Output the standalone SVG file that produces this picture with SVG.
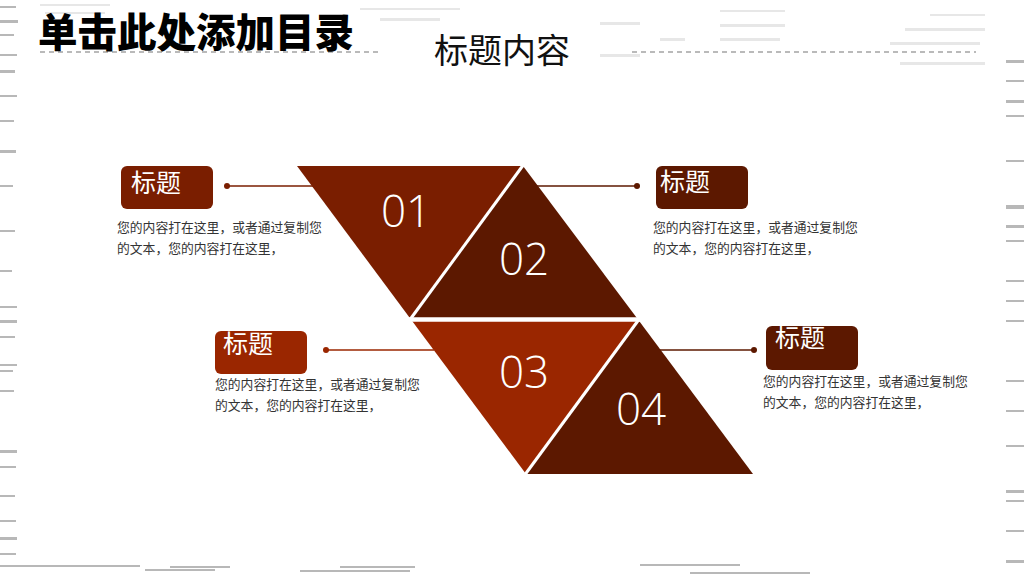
<svg xmlns="http://www.w3.org/2000/svg" width="1024" height="576" viewBox="0 0 1024 576">
  <style>
    .cjk { font-family: "Noto Sans CJK SC", "Noto Sans", sans-serif; }
    .num { font-family: "Open Sans", "Noto Sans", sans-serif; font-weight: 300; font-size: 44px; fill: #ffffff; text-anchor: middle; }
    .boxlabel { font-family: "Noto Sans CJK SC", sans-serif; font-size: 25px; fill: #ffffff; }
    .body { font-family: "Noto Sans CJK SC", sans-serif; font-size: 12.8px; fill: #333333; }
    .conn { stroke-width: 1.6; fill: none; }
    .gap { stroke: #ffffff; fill: none; }
    .streak { fill: #8a8a8a; }
    .streakl { fill: #d8d8d8; }
  </style>
  <rect x="0" y="0" width="1024" height="576" fill="#ffffff"/>

  <!-- grunge border texture -->
  <g id="texture" opacity="0.6">
    <rect class="streak" x="0" y="6" width="16" height="2"/>
    <rect class="streak" x="0" y="20" width="18" height="3"/>
    <rect class="streak" x="0" y="34" width="14" height="2"/>
    <rect class="streak" x="0" y="54" width="17" height="2"/>
    <rect class="streak" x="0" y="70" width="15" height="3"/>
    <rect class="streak" x="0" y="95" width="17" height="2"/>
    <rect class="streak" x="0" y="120" width="14" height="2"/>
    <rect class="streak" x="0" y="150" width="16" height="3"/>
    <rect class="streak" x="0" y="185" width="13" height="2"/>
    <rect class="streak" x="0" y="230" width="15" height="2"/>
    <rect class="streak" x="0" y="270" width="12" height="2"/>
    <rect class="streak" x="0" y="306" width="17" height="2"/>
    <rect class="streak" x="0" y="320" width="17" height="3"/>
    <rect class="streak" x="0" y="336" width="15" height="2"/>
    <rect class="streak" x="0" y="364" width="17" height="2"/>
    <rect class="streak" x="0" y="370" width="13" height="2"/>
    <rect class="streak" x="0" y="390" width="14" height="2"/>
    <rect class="streak" x="0" y="450" width="17" height="3"/>
    <rect class="streak" x="0" y="466" width="16" height="2"/>
    <rect class="streak" x="0" y="495" width="15" height="2"/>
    <rect class="streak" x="0" y="520" width="16" height="2"/>
    <rect class="streak" x="0" y="537" width="17" height="3"/>
    <rect class="streak" x="0" y="553" width="16" height="2"/>
    <rect class="streak" x="0" y="565" width="140" height="2"/>
    <rect class="streak" x="145" y="569" width="70" height="2"/>
    <rect class="streak" x="170" y="566" width="60" height="2"/>
    <rect class="streak" x="300" y="570" width="110" height="2"/>
    <rect class="streak" x="340" y="566" width="75" height="2"/>
    <rect class="streak" x="640" y="564" width="100" height="2"/>
    <rect class="streak" x="690" y="572" width="120" height="2"/>
    <rect class="streak" x="1006" y="60" width="18" height="3"/>
    <rect class="streak" x="1006" y="80" width="18" height="2"/>
    <rect class="streak" x="1006" y="100" width="18" height="3"/>
    <rect class="streak" x="1006" y="115" width="18" height="2"/>
    <rect class="streak" x="1006" y="160" width="18" height="2"/>
    <rect class="streak" x="1006" y="205" width="18" height="4"/>
    <rect class="streak" x="1006" y="225" width="18" height="3"/>
    <rect class="streak" x="1006" y="240" width="18" height="2"/>
    <rect class="streak" x="1006" y="280" width="18" height="2"/>
    <rect class="streak" x="1006" y="300" width="18" height="2"/>
    <rect class="streak" x="1006" y="320" width="18" height="2"/>
    <rect class="streak" x="1006" y="380" width="18" height="2"/>
    <rect class="streak" x="1006" y="410" width="18" height="2"/>
    <rect class="streak" x="1006" y="445" width="18" height="2"/>
    <rect class="streak" x="1006" y="490" width="18" height="3"/>
    <rect class="streak" x="1006" y="500" width="18" height="2"/>
    <rect class="streak" x="1006" y="530" width="18" height="2"/>
    <rect class="streak" x="1006" y="560" width="18" height="3"/>
    <rect class="streakl" x="40" y="4" width="70" height="2"/>
    <rect class="streakl" x="45" y="12" width="60" height="2"/>
    <rect class="streakl" x="360" y="8" width="100" height="2"/>
    <rect class="streakl" x="380" y="18" width="60" height="3"/>
    <rect class="streakl" x="720" y="10" width="65" height="2"/>
    <rect class="streakl" x="720" y="24" width="65" height="3"/>
    <rect class="streakl" x="720" y="38" width="60" height="3"/>
    <rect class="streakl" x="600" y="22" width="40" height="3"/>
    <rect class="streakl" x="660" y="38" width="25" height="3"/>
    <rect class="streakl" x="905" y="28" width="80" height="3"/>
    <rect class="streakl" x="890" y="42" width="90" height="3"/>
    <rect class="streakl" x="930" y="14" width="55" height="2"/>
    <rect class="streakl" x="900" y="62" width="85" height="3"/>
    <rect class="streakl" x="600" y="54" width="40" height="3"/>
  </g>

  <!-- heading -->
  <g id="heading">
    <line x1="40" y1="52" x2="382" y2="52" stroke="#777777" stroke-width="1.2" stroke-dasharray="5,4"/>
    <line x1="632" y1="52" x2="976" y2="52" stroke="#777777" stroke-width="1.2" stroke-dasharray="5,4"/>
    <text x="38" y="47" class="cjk" font-size="39.5" font-weight="900" fill="#000000">单击此处添加目录</text>
    <text x="434" y="63" class="cjk" font-size="34" fill="#111111">标题内容</text>
  </g>

  <!-- connectors -->
  <g id="connectors">
    <line class="conn" stroke="#7a1e00" x1="227" y1="186" x2="313" y2="186"/>
    <circle cx="227" cy="186" r="3" fill="#7a1e00"/>
    <line class="conn" stroke="#5c1800" x1="537" y1="186" x2="637" y2="186"/>
    <circle cx="637" cy="186" r="3" fill="#5c1800"/>
    <line class="conn" stroke="#9a2600" x1="326" y1="350" x2="434" y2="350"/>
    <circle cx="326" cy="350" r="3" fill="#9a2600"/>
    <line class="conn" stroke="#5c1800" x1="659" y1="350" x2="754" y2="350"/>
    <circle cx="754" cy="350" r="3" fill="#5c1800"/>
  </g>

  <!-- triangles -->
  <g id="tri01">
    <polygon points="297,166 523,166 411,319.5" fill="#7a1e00"/>
    <text x="406" y="227" class="num">01</text>
  </g>
  <g id="tri02">
    <polygon points="523,166 638,319.5 411,319.5" fill="#5c1800"/>
    <text x="524" y="275" class="num">02</text>
  </g>
  <g id="tri03">
    <polygon points="411,319.5 638,319.5 526,474" fill="#9a2600"/>
    <text x="524" y="388" class="num">03</text>
  </g>
  <g id="tri04">
    <polygon points="638,319.5 753,474 526,474" fill="#5c1800"/>
    <text x="641" y="425" class="num">04</text>
  </g>
  <g id="gaps">
    <line class="gap" x1="524" y1="164" x2="409" y2="321" stroke-width="3"/>
    <line class="gap" x1="404" y1="319.5" x2="646" y2="319.5" stroke-width="4.5"/>
    <line class="gap" x1="640" y1="318" x2="524" y2="476" stroke-width="3"/>
  </g>

  <!-- label boxes -->
  <g id="item1">
    <rect x="121" y="166" width="92" height="43" rx="6" fill="#7a1e00"/>
    <text x="131" y="192" class="boxlabel">标题</text>
    <text x="117" y="232" class="body">您的内容打在这里，或者通过复制您</text>
    <text x="117" y="253" class="body">的文本，您的内容打在这里，</text>
  </g>
  <g id="item2">
    <rect x="656" y="166" width="92" height="43" rx="6" fill="#5c1800"/>
    <text x="660" y="191" class="boxlabel">标题</text>
    <text x="653" y="232" class="body">您的内容打在这里，或者通过复制您</text>
    <text x="653" y="253" class="body">的文本，您的内容打在这里，</text>
  </g>
  <g id="item3">
    <rect x="215" y="331" width="92" height="43" rx="6" fill="#9a2600"/>
    <text x="223" y="353" class="boxlabel">标题</text>
    <text x="215" y="389" class="body">您的内容打在这里，或者通过复制您</text>
    <text x="215" y="410" class="body">的文本，您的内容打在这里，</text>
  </g>
  <g id="item4">
    <rect x="766" y="326" width="92" height="44" rx="6" fill="#5c1800"/>
    <text x="775" y="347" class="boxlabel">标题</text>
    <text x="763" y="386" class="body">您的内容打在这里，或者通过复制您</text>
    <text x="763" y="407" class="body">的文本，您的内容打在这里，</text>
  </g>
</svg>
